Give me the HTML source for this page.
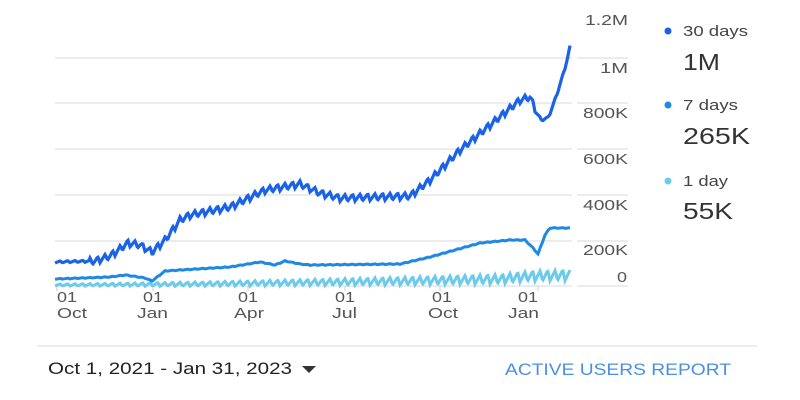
<!DOCTYPE html>
<html><head><meta charset="utf-8"><style>
body{margin:0;width:800px;height:400px;background:#fff;overflow:hidden;font-family:"Liberation Sans",sans-serif}
svg{position:absolute;left:0;top:0}
</style></head><body>
<svg width="800" height="400" id="s">
<g stroke="#e6e6e6" stroke-width="1.5">
<line x1="55" y1="58" x2="572" y2="58"/><line x1="577" y1="58" x2="628" y2="58"/>
<line x1="55" y1="103" x2="572" y2="103"/><line x1="577" y1="103" x2="628" y2="103"/>
<line x1="55" y1="149" x2="572" y2="149"/><line x1="577" y1="149" x2="628" y2="149"/>
<line x1="55" y1="195" x2="572" y2="195"/><line x1="577" y1="195" x2="628" y2="195"/>
<line x1="55" y1="241" x2="572" y2="241"/><line x1="577" y1="241" x2="628" y2="241"/>
<line x1="55" y1="286" x2="572" y2="286"/><line x1="577" y1="286" x2="628" y2="286"/>
<line x1="37" y1="346" x2="757" y2="346"/>
</g>
<g stroke="#ccc" stroke-width="1"><line x1="57" y1="286" x2="57" y2="291"/><line x1="153" y1="286" x2="153" y2="291"/><line x1="248" y1="286" x2="248" y2="291"/><line x1="345" y1="286" x2="345" y2="291"/><line x1="440" y1="286" x2="440" y2="291"/><line x1="538" y1="286" x2="538" y2="291"/></g>
<g font-size="15" fill="#555">
<text x="585" y="25" textLength="43" lengthAdjust="spacingAndGlyphs">1.2M</text>
<text x="600" y="73" textLength="28" lengthAdjust="spacingAndGlyphs">1M</text>
<text x="583" y="118" textLength="45" lengthAdjust="spacingAndGlyphs">800K</text>
<text x="583" y="164" textLength="45" lengthAdjust="spacingAndGlyphs">600K</text>
<text x="583" y="210" textLength="45" lengthAdjust="spacingAndGlyphs">400K</text>
<text x="583" y="255" textLength="45" lengthAdjust="spacingAndGlyphs">200K</text>
<text x="617" y="282" textLength="10" lengthAdjust="spacingAndGlyphs">0</text>
</g>
<g font-size="15" fill="#555">
<text x="57" y="302" textLength="20" lengthAdjust="spacingAndGlyphs">01</text><text x="57" y="318" textLength="30" lengthAdjust="spacingAndGlyphs">Oct</text>
<text x="143" y="302" textLength="20" lengthAdjust="spacingAndGlyphs">01</text><text x="137" y="318" textLength="31" lengthAdjust="spacingAndGlyphs">Jan</text>
<text x="238" y="302" textLength="20" lengthAdjust="spacingAndGlyphs">01</text><text x="234" y="318" textLength="30" lengthAdjust="spacingAndGlyphs">Apr</text>
<text x="335" y="302" textLength="20" lengthAdjust="spacingAndGlyphs">01</text><text x="332" y="318" textLength="25" lengthAdjust="spacingAndGlyphs">Jul</text>
<text x="432" y="302" textLength="20" lengthAdjust="spacingAndGlyphs">01</text><text x="428" y="318" textLength="30" lengthAdjust="spacingAndGlyphs">Oct</text>
<text x="518" y="302" textLength="20" lengthAdjust="spacingAndGlyphs">01</text><text x="508" y="318" textLength="31" lengthAdjust="spacingAndGlyphs">Jan</text>
</g>
<circle cx="668" cy="31" r="3.5" fill="#1a62e8"/><text x="683" y="36" font-size="15" fill="#444" textLength="65" lengthAdjust="spacingAndGlyphs">30 days</text>
<text x="683" y="70" font-size="23" fill="#333" textLength="37" lengthAdjust="spacingAndGlyphs">1M</text>
<circle cx="668" cy="105" r="3.5" fill="#1e88e5"/><text x="683" y="110" font-size="15" fill="#444" textLength="55" lengthAdjust="spacingAndGlyphs">7 days</text>
<text x="683" y="144" font-size="23" fill="#333" textLength="67" lengthAdjust="spacingAndGlyphs">265K</text>
<circle cx="668" cy="181" r="3.5" fill="#6ccbeb"/><text x="683" y="186" font-size="15" fill="#444" textLength="45" lengthAdjust="spacingAndGlyphs">1 day</text>
<text x="683" y="219" font-size="23" fill="#333" textLength="50" lengthAdjust="spacingAndGlyphs">55K</text>
<text x="48" y="374" font-size="17" fill="#222" textLength="244" lengthAdjust="spacingAndGlyphs">Oct 1, 2021 - Jan 31, 2023</text>
<path d="M302 366 L316 366 L309 373Z" fill="#333"/>
<text x="505" y="375" font-size="17" fill="#4a90e2" textLength="226" lengthAdjust="spacingAndGlyphs">ACTIVE USERS REPORT</text>
<path id="p3" fill="none" stroke="#6ccbeb" stroke-width="3"/>
<path id="p2" fill="none" stroke="#1e88e5" stroke-width="3"/>
<path id="p1" fill="none" stroke="#1a62e8" stroke-width="3.2"/>
</svg>
<script>
function interp(pts,x){for(let i=1;i<pts.length;i++){if(x<=pts[i][0]){const a=pts[i-1],b=pts[i];return a[1]+(b[1]-a[1])*(x-a[0])/(b[0]-a[0]);}}return pts[pts.length-1][1];}
function build(pts,step,ampf){let d="";for(let x=55;x<=570;x+=1){let ph=((x-55)%step)/step;let osc=ph<0.7?(ph/0.7):(1-(ph-0.7)/0.3);let y=interp(pts,x)+(0.5-osc)*ampf(x);d+=(d?"L":"M")+x.toFixed(1)+" "+y.toFixed(1);}return d;}
const s1=[[55,262],[95,261],[110,256],[128,243],[140,245],[152,252],[165,240],[180,220],[190,215],[230,207],[265,190],[300,184],[320,193],[340,198],[410,196],[430,180],[460,150],[490,125],[520,100],[530,97],[540,120],[548,118],[555,100],[563,75],[567,60],[570,47]];
const s2=[[55,279],[110,277],[125,275],[145,278],[152,281],[165,271],[180,270],[230,267],[260,262],[275,265],[285,261],[300,264],[310,265],[400,264],[430,257],[455,250],[480,243],[510,240],[525,240],[533,248],[538,254],[545,235],[550,228],[570,228]];
const s3=[[55,285],[200,284],[400,281],[500,279],[530,276],[570,275]];
document.getElementById('p1').setAttribute('d',build(s1,7.5,x=>x<90?2:(x>540?3:7)));
document.getElementById('p2').setAttribute('d',build(s2,7.5,x=>0.8));
document.getElementById('p3').setAttribute('d',build(s3,7.5,x=>2+(x-55)/515*9));
</script>
</body></html>
